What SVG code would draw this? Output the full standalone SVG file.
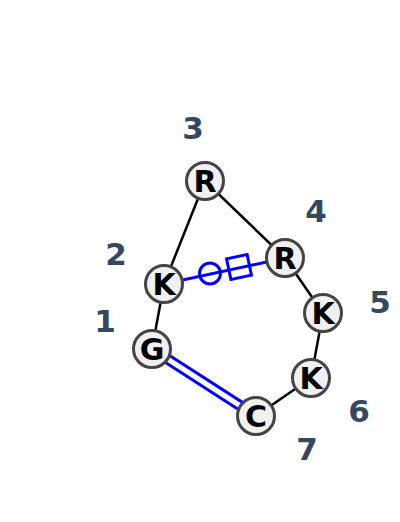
<svg xmlns="http://www.w3.org/2000/svg" width="400" height="522" viewBox="0 0 400 522">
<style>
.edge{stroke:#000;stroke-width:2.5;fill:none}
.blue{stroke:#0000ff;stroke-width:3;fill:none}
.node circle{fill:#f0f0f0;stroke:#444;stroke-width:3}
.node text{font-family:"DejaVu Sans",sans-serif;font-weight:bold;font-size:30px;fill:#000;text-anchor:middle}
.lbl{font-family:"DejaVu Sans",sans-serif;font-weight:bold;font-size:31px;fill:#34495e;text-anchor:middle}
</style>
<rect width="400" height="522" fill="#fff"/>
<g id="connectors">
<line class="edge" x1="152" y1="349" x2="164" y2="284"/>
<line class="edge" x1="164" y1="284" x2="205" y2="181"/>
<line class="edge" x1="205" y1="181" x2="285" y2="258"/>
<line class="edge" x1="285" y1="258" x2="323" y2="313"/>
<line class="edge" x1="323" y1="313" x2="311" y2="378"/>
<line class="edge" x1="311" y1="378" x2="256" y2="416"/>
<line class="blue" x1="150" y1="352.6" x2="254" y2="419.6"/>
<line class="blue" x1="154" y1="345.4" x2="258" y2="412.4"/>
<line class="blue" x1="164" y1="284" x2="285" y2="258"/>
<circle class="blue" cx="210" cy="273.5" r="10.5" fill="#fff"/>
<rect class="blue" x="-10.5" y="-10.5" width="21" height="21" fill="#fff" transform="translate(239 267) rotate(-12)"/>
</g>
<g id="n1" class="node"><circle cx="152" cy="349" r="18.5"/><text x="152" y="360">G</text></g>
<g id="n2" class="node"><circle cx="164" cy="284" r="18.5"/><text x="164" y="295">K</text></g>
<g id="n3" class="node"><circle cx="205" cy="181" r="18.5"/><text x="205" y="192">R</text></g>
<g id="n4" class="node"><circle cx="285" cy="258" r="18.5"/><text x="285" y="269">R</text></g>
<g id="n5" class="node"><circle cx="323" cy="313" r="18.5"/><text x="323" y="324">K</text></g>
<g id="n6" class="node"><circle cx="311" cy="378" r="18.5"/><text x="311" y="389">K</text></g>
<g id="n7" class="node"><circle cx="256" cy="416" r="18.5"/><text x="256" y="427">C</text></g>
<g id="labels">
<text class="lbl" x="193" y="139">3</text>
<text class="lbl" x="316" y="222">4</text>
<text class="lbl" x="116" y="265">2</text>
<text class="lbl" x="380" y="313">5</text>
<text class="lbl" x="105" y="332">1</text>
<text class="lbl" x="359" y="422">6</text>
<text class="lbl" x="307" y="460">7</text>
</g>
</svg>
